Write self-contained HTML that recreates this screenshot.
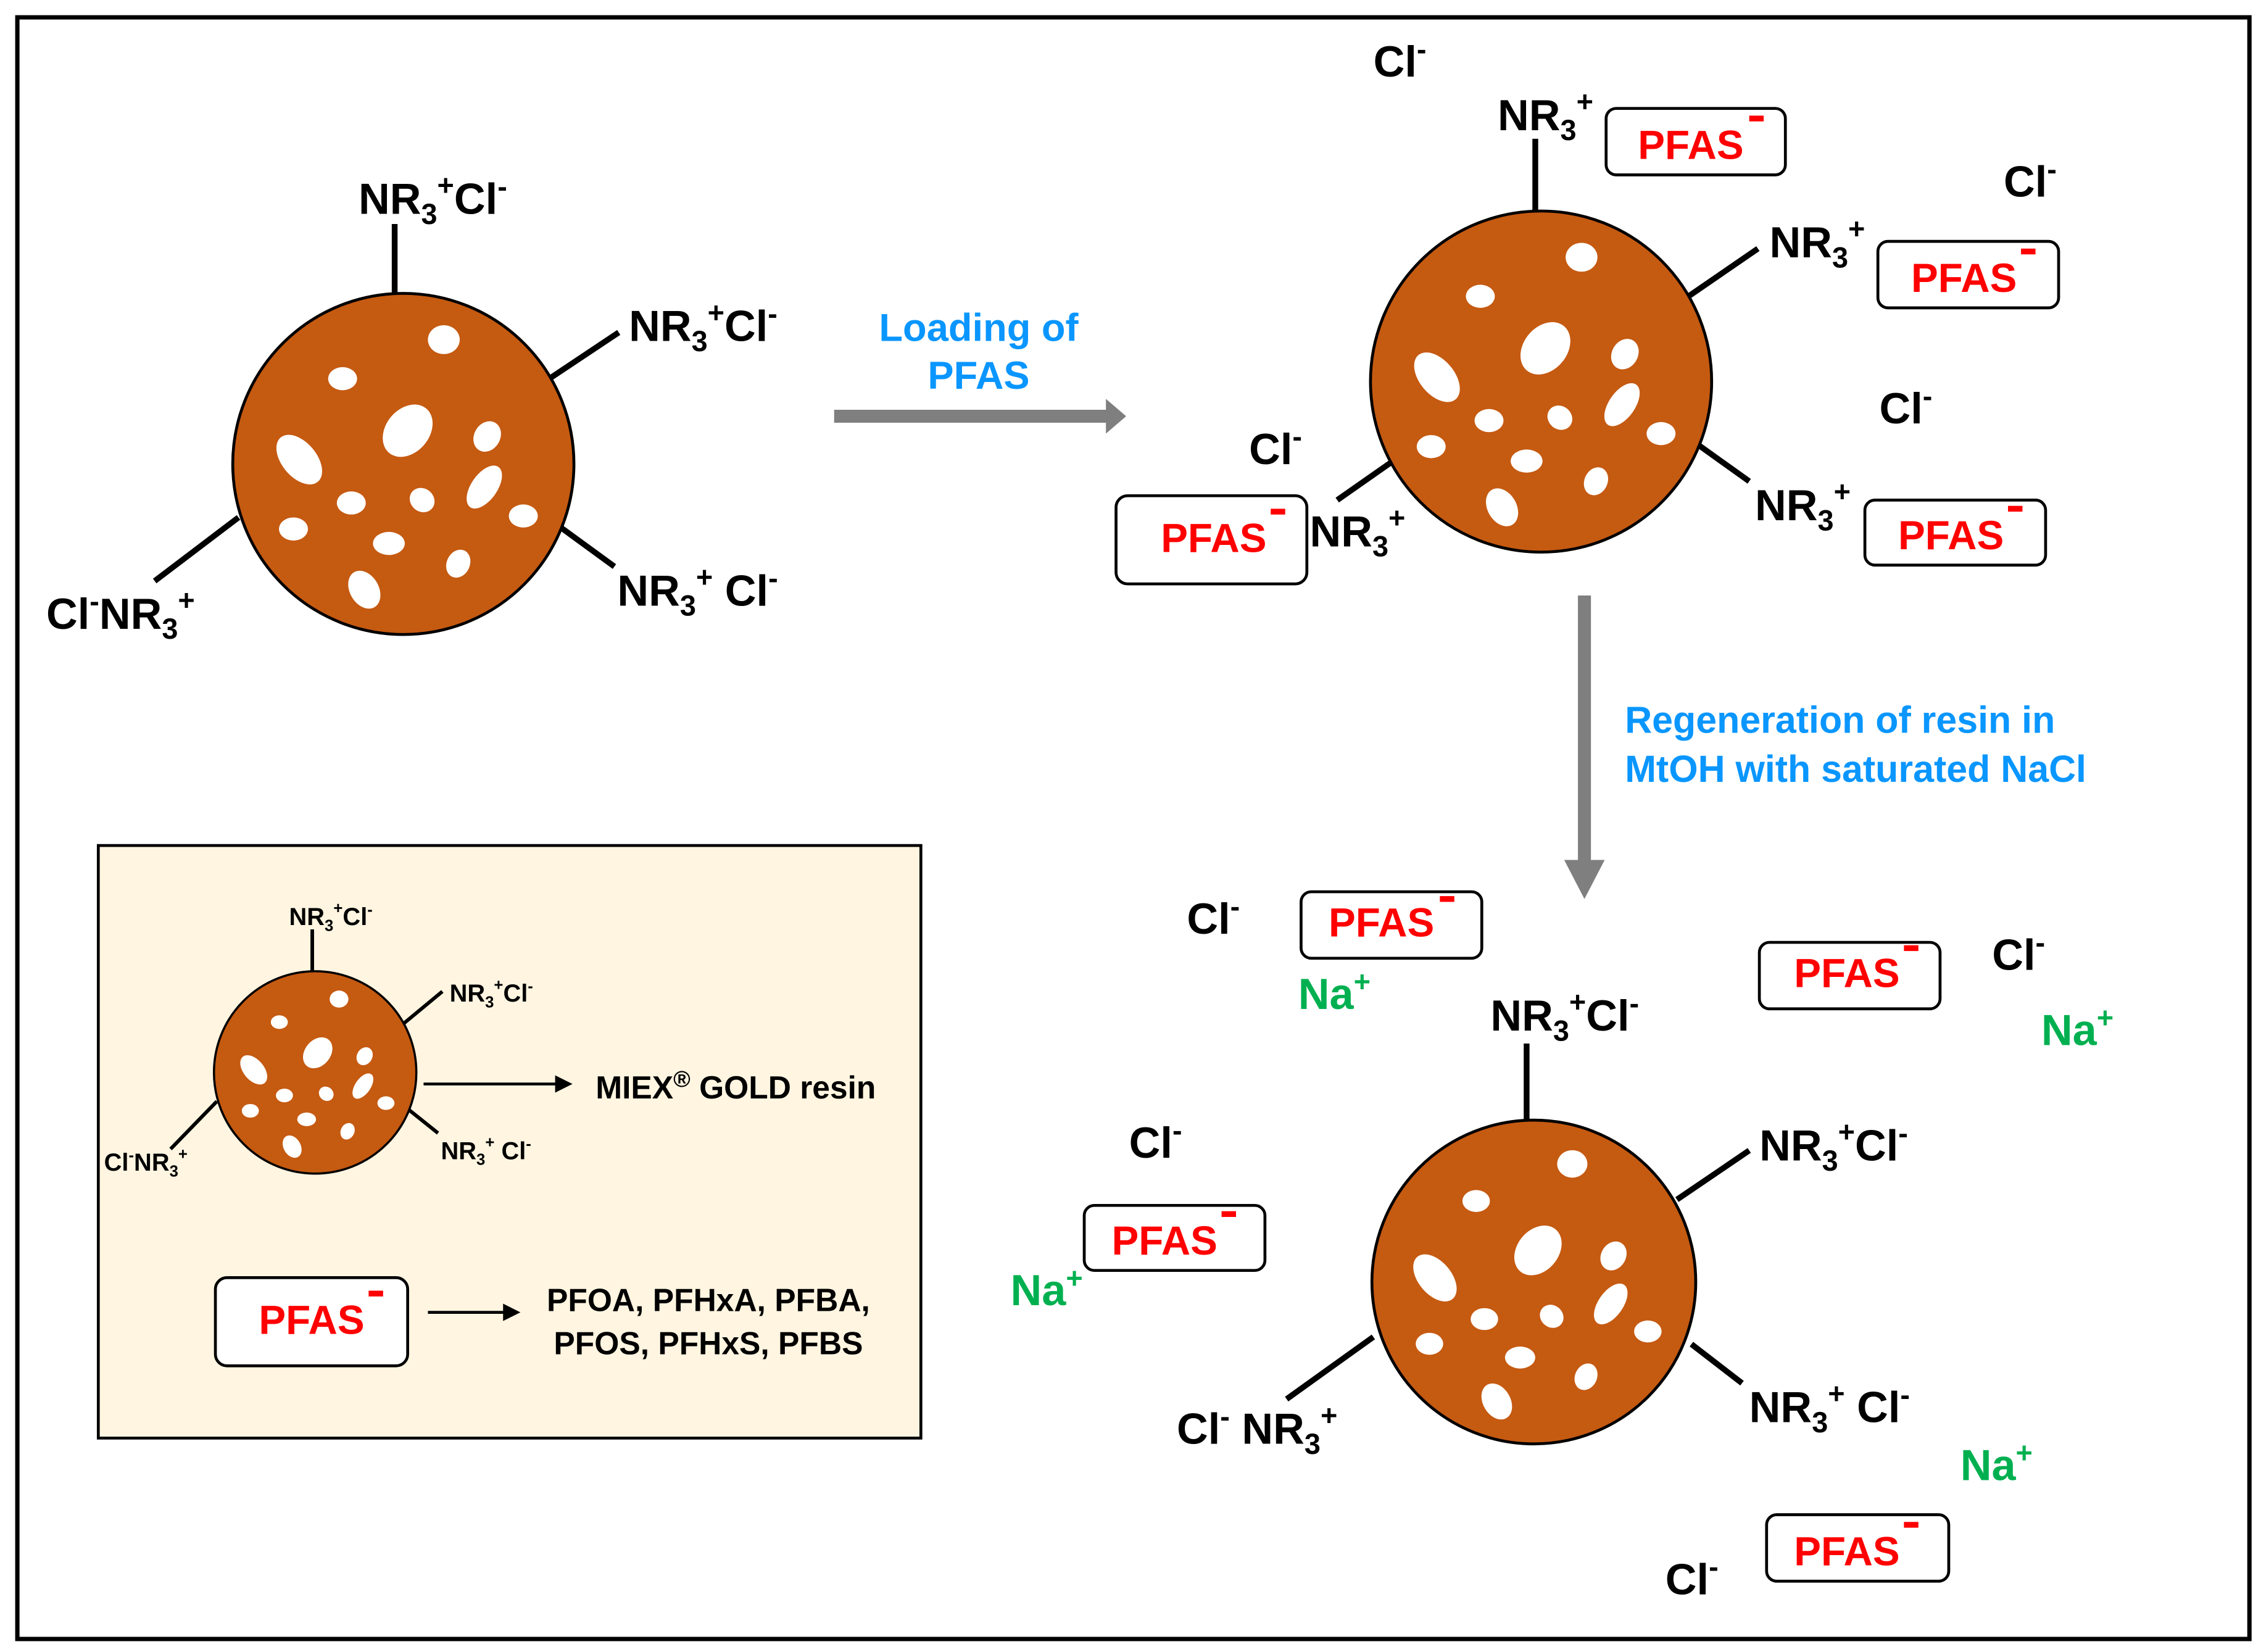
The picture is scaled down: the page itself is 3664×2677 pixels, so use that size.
<!DOCTYPE html>
<html><head><meta charset="utf-8"><style>
html,body{margin:0;padding:0;background:#fff}
svg{display:block}
text{font-family:"Liberation Sans",Arial,sans-serif;font-weight:bold}
</style></head><body>
<svg width="3664" height="2677" viewBox="0 0 1564 1143" preserveAspectRatio="none" xmlns="http://www.w3.org/2000/svg">
<defs>
<g id="holes" fill="#fff">
<ellipse cx="28" cy="-86" rx="11" ry="10"/>
<ellipse cx="-42" cy="-59" rx="10" ry="8"/>
<ellipse cx="3" cy="-23" rx="15" ry="20" transform="rotate(40 3 -23)"/>
<ellipse cx="-72" cy="-3" rx="12" ry="20" transform="rotate(-40 -72 -3)"/>
<ellipse cx="58" cy="-19" rx="9" ry="11" transform="rotate(30 58 -19)"/>
<ellipse cx="-36" cy="27" rx="10" ry="8"/>
<ellipse cx="13" cy="25" rx="9" ry="8" transform="rotate(40 13 25)"/>
<ellipse cx="56" cy="16" rx="9" ry="17" transform="rotate(35 56 16)"/>
<ellipse cx="83" cy="36" rx="10" ry="8"/>
<ellipse cx="-76" cy="45" rx="10" ry="8"/>
<ellipse cx="-10" cy="55" rx="11" ry="8"/>
<ellipse cx="38" cy="69" rx="8" ry="10" transform="rotate(25 38 69)"/>
<ellipse cx="-27" cy="87" rx="10" ry="14" transform="rotate(-30 -27 87)"/>
</g>
</defs>
<rect x="12" y="12" width="1544" height="1122" fill="#fff" stroke="#000" stroke-width="3"/>

<!-- Resin 1 -->
<g stroke="#000" stroke-width="4">
<line x1="273" y1="210" x2="273" y2="155"/>
<line x1="380" y1="262" x2="428" y2="230"/>
<line x1="388" y1="365" x2="425" y2="392"/>
<line x1="165" y1="358" x2="107" y2="402"/>
</g>
<circle cx="279" cy="321" r="118" fill="#C55A11" stroke="#000" stroke-width="2"/>
<use href="#holes" transform="translate(279,321)"/>
<g font-size="30" fill="#000">
<text x="248" y="148">NR<tspan font-size="20" dy="7">3</tspan><tspan font-size="20" dy="-20">+</tspan><tspan dy="13">Cl</tspan><tspan font-size="20" dy="-12">-</tspan></text>
<text x="435" y="236">NR<tspan font-size="20" dy="7">3</tspan><tspan font-size="20" dy="-20">+</tspan><tspan dy="13">Cl</tspan><tspan font-size="20" dy="-12">-</tspan></text>
<text x="427" y="419">NR<tspan font-size="20" dy="7">3</tspan><tspan font-size="20" dy="-20">+</tspan><tspan dy="13"> Cl</tspan><tspan font-size="20" dy="-12">-</tspan></text>
<text x="32" y="435">Cl<tspan font-size="20" dy="-12">-</tspan><tspan dy="12">NR</tspan><tspan font-size="20" dy="7">3</tspan><tspan font-size="20" dy="-20">+</tspan></text>
</g>

<!-- arrow 1 -->
<line x1="577" y1="288" x2="768" y2="288" stroke="#7F7F7F" stroke-width="9"/>
<polygon points="765,276 779,288 765,300" fill="#7F7F7F"/>
<g font-size="27" fill="#0A96FF" text-anchor="middle">
<text x="677" y="236">Loading of</text>
<text x="677" y="269">PFAS</text>
</g>

<!-- Resin 2 -->
<g stroke="#000" stroke-width="4">
<line x1="1062" y1="152" x2="1062" y2="96"/>
<line x1="1168" y1="205" x2="1216" y2="172"/>
<line x1="1175" y1="308" x2="1210" y2="333"/>
<line x1="925" y1="346" x2="965" y2="318"/>
</g>
<circle cx="1066" cy="264" r="118" fill="#C55A11" stroke="#000" stroke-width="2"/>
<use href="#holes" transform="translate(1066,264)"/>
<g font-size="30" fill="#000">
<text x="1036" y="90">NR<tspan font-size="20" dy="7">3</tspan><tspan font-size="20" dy="-20">+</tspan></text>
<text x="950" y="53">Cl<tspan font-size="20" dy="-12">-</tspan></text>
<text x="1224" y="178">NR<tspan font-size="20" dy="7">3</tspan><tspan font-size="20" dy="-20">+</tspan></text>
<text x="1386" y="136">Cl<tspan font-size="20" dy="-12">-</tspan></text>
<text x="1214" y="360">NR<tspan font-size="20" dy="7">3</tspan><tspan font-size="20" dy="-20">+</tspan></text>
<text x="1300" y="293">Cl<tspan font-size="20" dy="-12">-</tspan></text>
<text x="906" y="378">NR<tspan font-size="20" dy="7">3</tspan><tspan font-size="20" dy="-20">+</tspan></text>
<text x="864" y="321">Cl<tspan font-size="20" dy="-12">-</tspan></text>
</g>

<!-- PFAS boxes -->
<g fill="#fff" stroke="#000" stroke-width="2">
<rect x="1111" y="75" width="124" height="46" rx="7"/>
<rect x="1299" y="167" width="125" height="46" rx="7"/>
<rect x="1290" y="346" width="125" height="45" rx="7"/>
<rect x="772" y="343" width="132" height="61" rx="8"/>
<rect x="900" y="617" width="125" height="46" rx="7"/>
<rect x="1217" y="652" width="125" height="46" rx="7"/>
<rect x="750" y="834" width="125" height="45" rx="7"/>
<rect x="1222" y="1048" width="126" height="46" rx="7"/>
</g>
<g font-size="28" fill="#FF0000">
<text x="1133" y="110">PFAS</text><rect x="1210" y="80" width="10" height="4"/>
<text x="1322" y="202">PFAS</text><rect x="1398" y="172" width="10" height="4"/>
<text x="1313" y="380">PFAS</text><rect x="1389" y="350" width="10" height="4"/>
<text x="803" y="382">PFAS</text><rect x="879" y="352" width="10" height="4"/>
<text x="919" y="648">PFAS</text><rect x="996" y="620" width="10" height="4"/>
<text x="1241" y="683">PFAS</text><rect x="1317" y="654" width="10" height="4"/>
<text x="769" y="868">PFAS</text><rect x="845" y="838" width="10" height="4"/>
<text x="1241" y="1083">PFAS</text><rect x="1317" y="1053" width="10" height="4"/>
</g>

<!-- arrow 2 -->
<line x1="1096" y1="412" x2="1096" y2="598" stroke="#7F7F7F" stroke-width="9"/>
<polygon points="1082,595 1110,595 1096,622" fill="#7F7F7F"/>
<g font-size="26" fill="#0A96FF">
<text x="1124" y="507">Regeneration of resin in</text>
<text x="1124" y="541">MtOH with saturated NaCl</text>
</g>

<!-- Resin 3 -->
<g stroke="#000" stroke-width="4">
<line x1="1056" y1="776" x2="1056" y2="722"/>
<line x1="1160" y1="830" x2="1210" y2="796"/>
<line x1="1170" y1="930" x2="1205" y2="957"/>
<line x1="950" y1="925" x2="890" y2="968"/>
</g>
<circle cx="1061" cy="887" r="112" fill="#C55A11" stroke="#000" stroke-width="2"/>
<use href="#holes" transform="translate(1061,887) scale(0.95)"/>
<g font-size="30" fill="#000">
<text x="1031" y="713">NR<tspan font-size="20" dy="7">3</tspan><tspan font-size="20" dy="-20">+</tspan><tspan dy="13">Cl</tspan><tspan font-size="20" dy="-12">-</tspan></text>
<text x="1217" y="803">NR<tspan font-size="20" dy="7">3</tspan><tspan font-size="20" dy="-20">+</tspan><tspan dy="13">Cl</tspan><tspan font-size="20" dy="-12">-</tspan></text>
<text x="1210" y="984">NR<tspan font-size="20" dy="7">3</tspan><tspan font-size="20" dy="-20">+</tspan><tspan dy="13"> Cl</tspan><tspan font-size="20" dy="-12">-</tspan></text>
<text x="814" y="999">Cl<tspan font-size="20" dy="-12">-</tspan><tspan dy="12"> NR</tspan><tspan font-size="20" dy="7">3</tspan><tspan font-size="20" dy="-20">+</tspan></text>
<text x="821" y="646">Cl<tspan font-size="20" dy="-12">-</tspan></text>
<text x="1378" y="671">Cl<tspan font-size="20" dy="-12">-</tspan></text>
<text x="781" y="801">Cl<tspan font-size="20" dy="-12">-</tspan></text>
<text x="1152" y="1103">Cl<tspan font-size="20" dy="-12">-</tspan></text>
</g>
<g font-size="30" fill="#00B050">
<text x="898" y="698">Na<tspan font-size="20" dy="-12">+</tspan></text>
<text x="1412" y="723">Na<tspan font-size="20" dy="-12">+</tspan></text>
<text x="699" y="903">Na<tspan font-size="20" dy="-12">+</tspan></text>
<text x="1356" y="1024">Na<tspan font-size="20" dy="-12">+</tspan></text>
</g>

<!-- Legend -->
<rect x="68" y="585" width="569" height="410" fill="#FFF5E1" stroke="#000" stroke-width="2"/>
<g stroke="#000" stroke-width="2.5">
<line x1="216" y1="673" x2="216" y2="643"/>
<line x1="277" y1="710" x2="306" y2="686"/>
<line x1="283" y1="768" x2="303" y2="784"/>
<line x1="150" y1="762" x2="118" y2="795"/>
</g>
<circle cx="218" cy="742" r="70" fill="#C55A11" stroke="#000" stroke-width="1.5"/>
<use href="#holes" transform="translate(218,742) scale(0.59)"/>
<g font-size="17" fill="#000">
<text x="200" y="640">NR<tspan font-size="11" dy="4">3</tspan><tspan font-size="11" dy="-12">+</tspan><tspan dy="8">Cl</tspan><tspan font-size="11" dy="-7">-</tspan></text>
<text x="311" y="693">NR<tspan font-size="11" dy="4">3</tspan><tspan font-size="11" dy="-12">+</tspan><tspan dy="8">Cl</tspan><tspan font-size="11" dy="-7">-</tspan></text>
<text x="305" y="802">NR<tspan font-size="11" dy="4">3</tspan><tspan font-size="11" dy="-12">+</tspan><tspan dy="8"> Cl</tspan><tspan font-size="11" dy="-7">-</tspan></text>
<text x="72" y="810">Cl<tspan font-size="11" dy="-7">-</tspan><tspan dy="7">NR</tspan><tspan font-size="11" dy="4">3</tspan><tspan font-size="11" dy="-12">+</tspan></text>
</g>
<line x1="293" y1="750" x2="386" y2="750" stroke="#000" stroke-width="2"/>
<polygon points="384,744 396,750 384,756" fill="#000"/>
<text x="412" y="760" font-size="22" fill="#000">MIEX<tspan font-size="16" dy="-8">®</tspan><tspan dy="8"> GOLD resin</tspan></text>
<rect x="149" y="884" width="133" height="61" rx="8" fill="#fff" stroke="#000" stroke-width="2"/>
<text x="179" y="923" font-size="28" fill="#FF0000">PFAS</text>
<rect x="255" y="893" width="10" height="4" fill="#FF0000"/>
<line x1="296" y1="908" x2="350" y2="908" stroke="#000" stroke-width="2"/>
<polygon points="348,902 360,908 348,914" fill="#000"/>
<g font-size="22" fill="#000" text-anchor="middle">
<text x="490" y="907">PFOA, PFHxA, PFBA,</text>
<text x="490" y="937">PFOS, PFHxS, PFBS</text>
</g>
</svg>
</body></html>
